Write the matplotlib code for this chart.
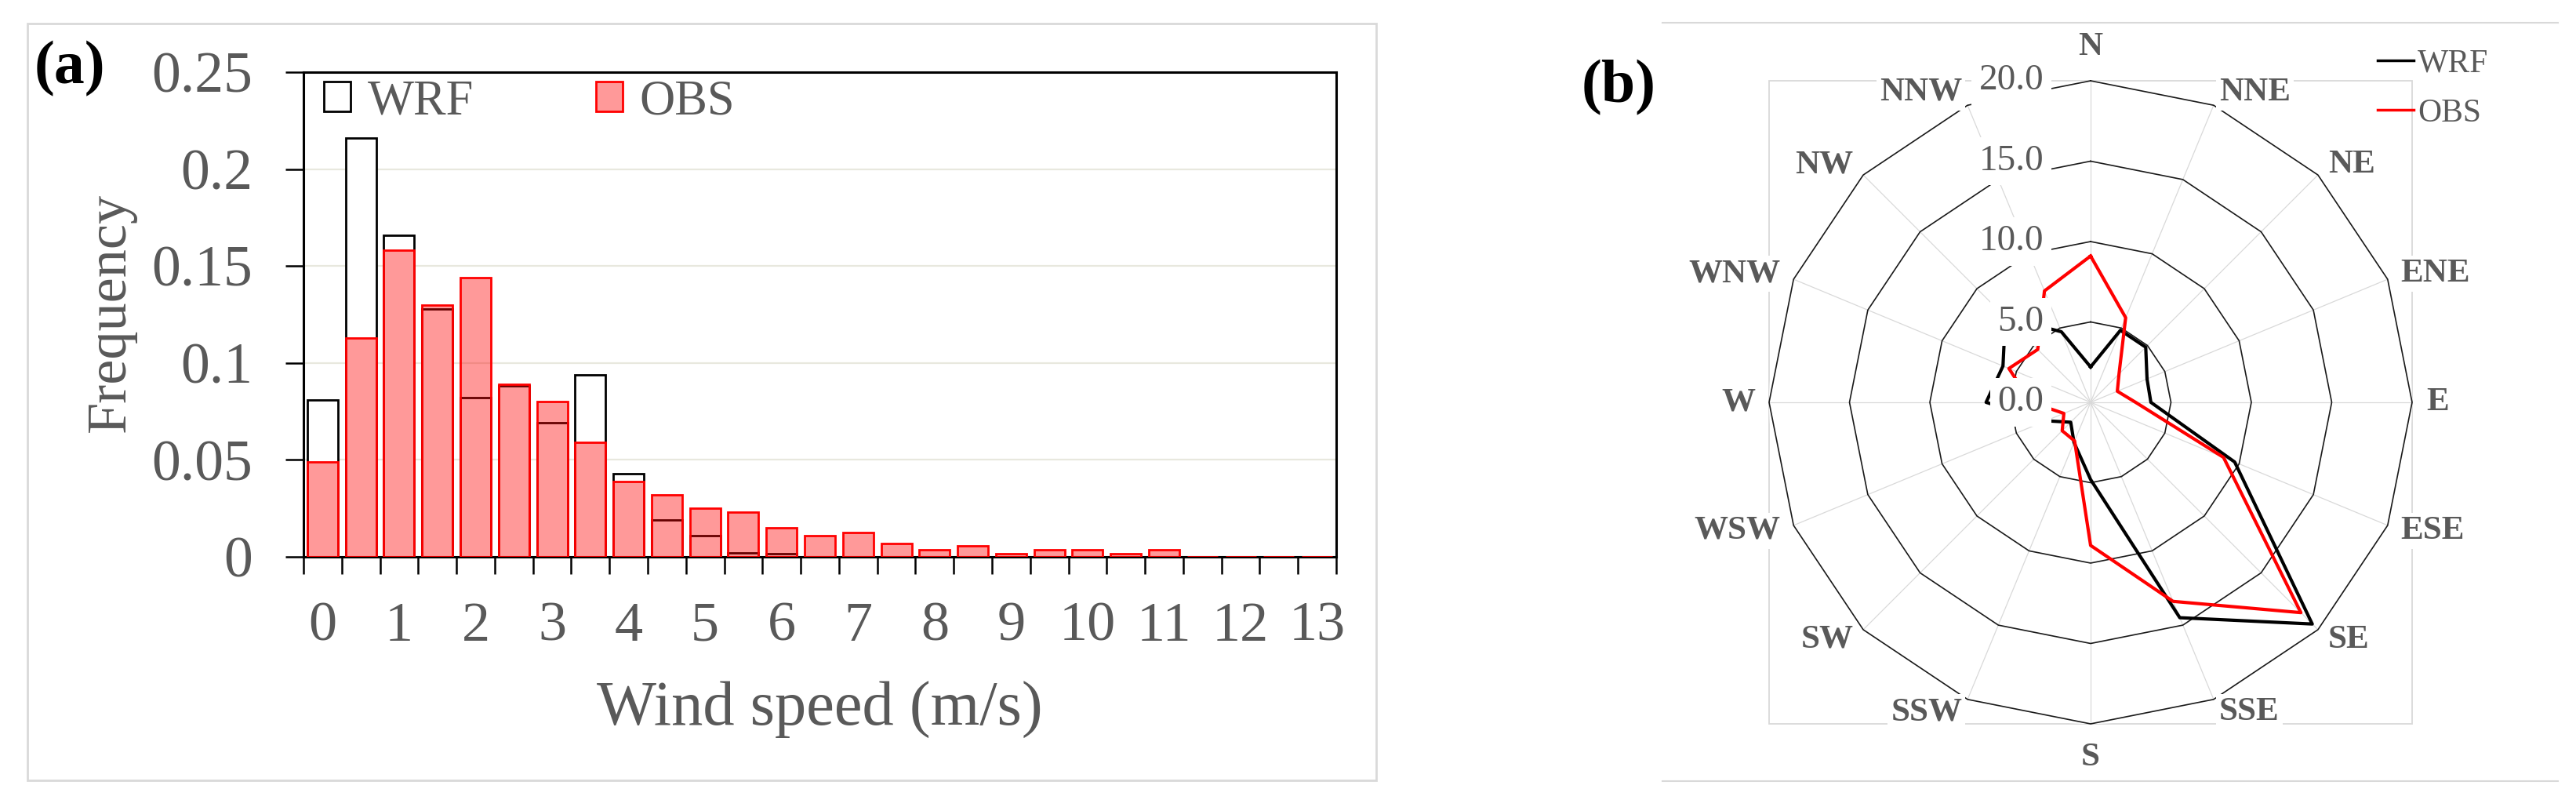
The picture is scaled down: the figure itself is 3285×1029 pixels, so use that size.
import matplotlib
matplotlib.use("Agg")
import matplotlib.pyplot as plt
import numpy as np
from matplotlib.patches import Rectangle
from matplotlib.lines import Line2D

# ---- data ----
# (a) wind speed frequency, 0.5 m/s bins (27 bins, 0 .. 13.5 m/s)
speed_bins = np.arange(27)
speed_labels = [str(v) for v in range(14)]
wrf_freq = [0.081, 0.216, 0.166, 0.128, 0.082, 0.088, 0.069, 0.094, 0.043, 0.019,
            0.011, 0.002, 0.0015, 0, 0, 0, 0, 0, 0, 0,
            0, 0, 0, 0, 0, 0, 0]
obs_freq = [0.049, 0.113, 0.158, 0.130, 0.144, 0.089, 0.080, 0.059, 0.039, 0.032,
            0.025, 0.023, 0.015, 0.011, 0.0125, 0.007, 0.0035, 0.0055, 0.0018, 0.0035,
            0.0035, 0.0018, 0.0035, 0, 0, 0, 0]
freq_ticks = [0, 0.05, 0.1, 0.15, 0.2, 0.25]
freq_labels = ["0", "0.05", "0.1", "0.15", "0.2", "0.25"]

# (b) wind direction frequency (%)
directions = ["N", "NNE", "NE", "ENE", "E", "ESE", "SE", "SSE",
              "S", "SSW", "SW", "WSW", "W", "WNW", "NW", "NNW"]
wrf_dir = [2.2, 4.85, 4.85, 3.8, 3.75, 9.7, 19.5, 14.5,
           4.8, 2.7, 1.75, 3.0, 6.5, 5.9, 7.5, 4.75]
obs_dir = [9.1, 5.7, 2.5, 1.8, 2.8, 8.95, 18.5, 13.4,
           8.9, 2.6, 2.5, 1.8, 3.7, 5.5, 4.65, 7.5]
rings = [0, 5, 10, 15, 20]

# ---- figure ----
W, H = 3285, 1029
plt.rcParams["font.family"] = ["Liberation Serif", "DejaVu Serif"]
fig = plt.figure(figsize=(W / 100, H / 100), dpi=100)
GRAY = "#595959"
LIGHT = "#d9d9d9"


def fx(x):
    return x / W


def fy(y):
    return 1 - y / H


# panel frames
fig.add_artist(Rectangle((fx(35), fy(995)), fx(1755) - fx(35), fy(30) - fy(995),
                         transform=fig.transFigure, fill=False, ec=LIGHT, lw=2))
for yy in (29, 996):
    fig.add_artist(Line2D([fx(2120), fx(3262)], [fy(yy), fy(yy)],
                          transform=fig.transFigure, color=LIGHT, lw=1.5))

# ---- (a) histogram ----
ax = fig.add_axes([fx(387), fy(710), fx(1704) - fx(387), fy(92) - fy(710)])
ax.bar(speed_bins, wrf_freq, width=0.8, facecolor="white", edgecolor="black",
       linewidth=2, label="WRF", zorder=2)
ax.bar(speed_bins, obs_freq, width=0.8, facecolor=(1, 0, 0, 0.4), edgecolor="red",
       linewidth=2, label="OBS", zorder=3)
ax.set_xlim(-0.5, 26.5)
ax.set_ylim(0, 0.25)
ax.set_xticks(np.arange(0, 27, 2))
ax.set_xticklabels(speed_labels)
ax.set_xticks(np.arange(-0.5, 27, 1), minor=True)
ax.tick_params(axis="x", which="major", length=0, pad=41, labelsize=52, labelcolor=GRAY)
ax.tick_params(axis="x", which="minor", length=16, width=1.8, direction="out")
ax.set_yticks(freq_ticks)
ax.set_yticklabels(freq_labels)
ax.tick_params(axis="y", length=16.5, width=1.8, pad=30, labelsize=53, labelcolor=GRAY)
ax.grid(axis="y", color="#e8e8de", lw=1.6)
ax.set_axisbelow(True)
for s in ax.spines.values():
    s.set_linewidth(2.2)
    s.set_color("black")
ax.legend(loc="center left", bbox_to_anchor=(0.0197, 0.9385), ncol=2, frameon=False,
          fontsize=45, handlelength=0.54, handleheight=0.54, handletextpad=0.35,
          columnspacing=2.5, borderpad=0, borderaxespad=0, labelcolor=GRAY)

fig.text(fx(141), fy(398), "Frequency", rotation=90, ha="center", va="center",
         fontsize=52, color=GRAY)
fig.text(fx(1045), fy(905), "Wind speed (m/s)", ha="center", va="center",
         fontsize=58, color=GRAY)
fig.text(fx(89), fy(88), "(a)", ha="center", va="center", fontsize=56, fontweight="bold")
fig.text(fx(2064), fy(112), "(b)", ha="center", va="center", fontsize=56, fontweight="bold")

# ---- (b) radar ----
axr = fig.add_axes([fx(2256), fy(923), fx(3076) - fx(2256), fy(103) - fy(923)],
                   projection="polar")
axr.set_theta_zero_location("N")
axr.set_theta_direction(-1)
theta = np.linspace(0, 2 * np.pi, len(directions), endpoint=False)
theta_c = np.append(theta, 2 * np.pi)

for r in rings[1:]:
    axr.plot(theta_c, [r] * len(theta_c), color="#1a1a1a", lw=1.2, zorder=1, clip_on=False)
for t in theta:
    axr.plot([t, t], [0, rings[-1]], color=LIGHT, lw=0.9, zorder=0.5)

axr.plot(theta_c, wrf_dir + wrf_dir[:1], color="black", lw=3.0, zorder=3, clip_on=False)
axr.plot(theta_c, obs_dir + obs_dir[:1], color="red", lw=3.0, zorder=3.1, clip_on=False)

axr.set_ylim(0, rings[-1])
axr.grid(False)
axr.set_xticks([])
axr.set_yticks([])
axr.spines["polar"].set_visible(False)

# square frame around the radar plot area
fig.add_artist(Rectangle((0, 0), 1, 1, transform=axr.transAxes, fill=False,
                         ec=LIGHT, lw=1.3, zorder=-1))

for t, name in zip(theta, directions):
    dx, dy = np.sin(t), np.cos(t)
    if abs(dx) < 0.1:
        ha, off = "center", (0, 31 * dy)
    else:
        ha, off = ("left" if dx > 0 else "right"), (13 * dx, 13 * dy)
    axr.annotate(name, xy=(t, rings[-1]), xytext=off, textcoords="offset points",
                 ha=ha, va="center", fontsize=31, fontweight="bold", color=GRAY,
                 bbox=dict(boxstyle="square,pad=0.1", fc="white", ec="none"),
                 zorder=5, annotation_clip=False)

for r in rings:
    axr.annotate(f"{r:.1f}", xy=(0, r), xytext=(-43, 0), textcoords="offset points",
                 ha="right", va="center", fontsize=34, color=GRAY,
                 bbox=dict(boxstyle="square,pad=0.2", fc="white", ec="none"),
                 zorder=4, annotation_clip=False)

leg_handles = [Line2D([], [], color="black", lw=2.5), Line2D([], [], color="red", lw=2.5)]
fig.legend(leg_handles, ["WRF", "OBS"], loc="center left",
           bbox_to_anchor=(fx(3032), fy(113)), frameon=False, fontsize=30,
           handlelength=1.1, handletextpad=0.12, labelspacing=0.6,
           borderpad=0, borderaxespad=0, labelcolor=GRAY)

fig.savefig("out.png", dpi=100)
